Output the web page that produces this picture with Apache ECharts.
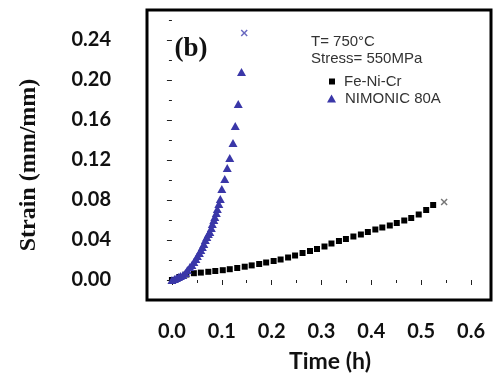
<!DOCTYPE html>
<html>
<head>
<meta charset="utf-8">
<script src="https://cdn.jsdelivr.net/npm/echarts@6/dist/echarts.min.js"></script>
<style>html,body{margin:0;padding:0;background:#fff}#c{width:494px;height:381px}</style>
</head>
<body>
<div id="c"></div>
<script>
// Fe-Ni-Cr data (time h, strain mm/mm)
var feTime = [0.000,0.015,0.029,0.044,0.058,0.073,0.087,0.102,0.116,0.131,0.146,0.160,0.175,0.189,0.204,0.218,0.233,0.247,0.262,0.277,0.291,0.306,0.320,0.335,0.349,0.364,0.379,0.393,0.408,0.422,0.437,0.451,0.466,0.480,0.495,0.510,0.524];
var feStrain = [0.000,0.003,0.0055,0.0068,0.0074,0.0082,0.009,0.0098,0.0108,0.012,0.0133,0.0146,0.016,0.0175,0.019,0.0205,0.0225,0.0245,0.027,0.029,0.031,0.0335,0.0365,0.039,0.041,0.0435,0.0455,0.048,0.0505,0.0525,0.0545,0.057,0.0595,0.062,0.0655,0.070,0.075];
// NIMONIC 80A data
var niTime = [0.000,0.005,0.009,0.013,0.017,0.022,0.027,0.031,0.036,0.040,0.044,0.048,0.051,0.055,0.058,0.061,0.064,0.067,0.070,0.073,0.076,0.079,0.081,0.084,0.086,0.089,0.091,0.094,0.097,0.100,0.106,0.111,0.116,0.1225,0.127,0.133,0.1395];
var niStrain = [0.000,0.001,0.002,0.003,0.004,0.005,0.007,0.010,0.013,0.015,0.018,0.021,0.024,0.027,0.030,0.033,0.036,0.040,0.043,0.046,0.048,0.052,0.056,0.060,0.063,0.067,0.071,0.076,0.081,0.091,0.101,0.112,0.122,0.137,0.154,0.176,0.208];
// rupture points
var feRupture = [0.546, 0.078];
var niRupture = [0.145, 0.247];
// ticks
var xMajor = [0,0.1,0.2,0.3,0.4,0.5,0.6];
var xMinor = [0.05,0.15,0.25,0.35,0.45,0.55];
var yMajor = [0,0.04,0.08,0.12,0.16,0.20,0.24];
var yMinor = [0.02,0.06,0.10,0.14,0.18,0.22,0.26];

function zip(a,b){return a.map(function(v,i){return [v,b[i]];});}
var crossPath = 'path://M0,1.5L1.5,0L5,3.5L8.5,0L10,1.5L6.5,5L10,8.5L8.5,10L5,6.5L1.5,10L0,8.5L3.5,5Z';
var chart = echarts.init(document.getElementById('c'), null, {renderer:'canvas'});
var xBase = {type:'value', min:-0.05, max:0.64, gridIndex:0, splitLine:{show:false}, axisLine:{show:false}};
var yBase = {type:'value', min:-0.02, max:0.27, gridIndex:0, splitLine:{show:false}, axisLine:{show:false}};
chart.setOption({
  animation:false,
  grid:{left:147, right:3, top:10, bottom:81, show:true, borderColor:'#000', borderWidth:3, backgroundColor:'#fff'},
  xAxis:[
    Object.assign({}, xBase, {position:'bottom',
      axisTick:{show:true, length:5, customValues:xMajor, lineStyle:{color:'#222'}},
      axisLabel:{show:true, customValues:xMajor, margin:22, formatter:function(v){return v.toFixed(1);}, fontFamily:'Lato', fontWeight:'bold', fontSize:20, color:'#111'}}),
    Object.assign({}, xBase, {position:'bottom',
      axisTick:{show:true, length:3, customValues:xMinor, lineStyle:{color:'#222'}},
      axisLabel:{show:false}})
  ],
  yAxis:[
    Object.assign({}, yBase, {position:'left',
      axisTick:{show:true, length:5, customValues:yMajor, lineStyle:{color:'#222'}},
      axisLabel:{show:true, customValues:yMajor, margin:36, formatter:function(v){return v.toFixed(2);}, fontFamily:'Lato', fontWeight:'bold', fontSize:20, color:'#111'}}),
    Object.assign({}, yBase, {position:'left',
      axisTick:{show:true, length:3, customValues:yMinor, lineStyle:{color:'#222'}},
      axisLabel:{show:false}})
  ],
  legend:[
    {data:[{name:'Fe-Ni-Cr', icon:'rect'}], orient:'vertical', left:329, top:74, padding:0, itemWidth:6, itemHeight:6,
     textStyle:{fontFamily:'Liberation Sans', fontSize:15, color:'#333', padding:[0,0,0,4]}, selectedMode:false},
    {data:[{name:'NIMONIC 80A', icon:'triangle'}], orient:'vertical', left:327, top:91, padding:0, itemWidth:9, itemHeight:8,
     textStyle:{fontFamily:'Liberation Sans', fontSize:15, color:'#333', padding:[0,0,0,4]}, selectedMode:false}
  ],
  series:[
    {name:'Fe-Ni-Cr', type:'scatter', symbol:'rect', symbolSize:6, itemStyle:{color:'#000', opacity:1}, data:zip(feTime,feStrain), z:3},
    {name:'NIMONIC 80A', type:'scatter', symbol:'triangle', symbolSize:[9,8], itemStyle:{color:'#3a37a8', opacity:1}, data:zip(niTime,niStrain), z:4},
    {name:'rupture1', type:'scatter', symbol:crossPath, symbolSize:7, itemStyle:{color:'#555'}, data:[feRupture]},
    {name:'rupture2', type:'scatter', symbol:crossPath, symbolSize:7, itemStyle:{color:'#4444b0'}, data:[niRupture]}
  ],
  graphic:[
    {type:'text', left:311, top:34, style:{text:'T= 750°C', fontFamily:'Liberation Sans', fontSize:15, fill:'#333'}},
    {type:'text', left:311, top:51, style:{text:'Stress= 550MPa', fontFamily:'Liberation Sans', fontSize:15, fill:'#333'}},
    {type:'text', x:191, y:49, style:{text:'(b)', fontFamily:'Liberation Serif', fontWeight:'bold', fontSize:27, fill:'#111', align:'center', verticalAlign:'middle'}},
    {type:'text', x:330, y:362, style:{text:'Time (h)', fontFamily:'Lato', fontWeight:'bold', fontSize:23, fill:'#111', align:'center', verticalAlign:'middle'}},
    {type:'text', x:29, y:165, rotation:Math.PI/2, style:{text:'Strain (mm/mm)', fontFamily:'Liberation Serif', fontWeight:'bold', fontSize:24, fill:'#111', align:'center', verticalAlign:'middle'}}
  ]
});
</script>
</body>
</html>
